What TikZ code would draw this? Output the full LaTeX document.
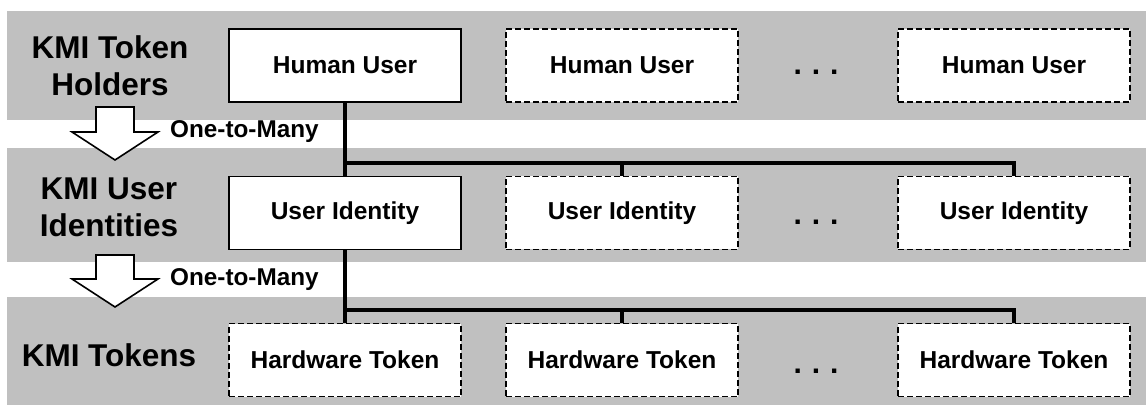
\documentclass[tikz,border=0pt]{standalone}
\usepackage{fontspec}
\setmainfont{Liberation Sans}
\definecolor{bandgray}{RGB}{192,192,192}
\tikzset{
  band/.style={fill=bandgray, draw=none},
  rowlabel/.style={font=\fontsize{31.5}{37}\selectfont\bfseries, align=center, inner sep=0pt},
  entity/.style={draw=black, line width=1.6pt, fill=white, minimum width=232pt,
    minimum height=73pt, inner sep=0pt, font=\fontsize{24.5}{28}\selectfont\bfseries},
  optional/.style={entity, dash pattern=on 6pt off 3pt},
  dots/.style={font=\fontsize{30}{36}\selectfont\bfseries, inner sep=0pt, anchor=base},
  relation/.style={font=\fontsize{24.3}{28}\selectfont\bfseries, inner sep=0pt, anchor=west},
  bus/.style={draw=black, line width=3.5pt},
  flow/.style={draw=black, fill=white, line width=1.6pt, line join=miter},
}
\begin{document}
\begin{tikzpicture}[x=1pt, y=-1pt]
  \useasboundingbox (0,0) rectangle (1146,406);

  % layer bands
  \fill[band] (7,11) rectangle (1146,120);
  \fill[band] (7,148) rectangle (1146,262);
  \fill[band] (7,297) rectangle (1146,405);

  % layer titles
  \node[rowlabel] (lab1) at (110,65.5) {KMI Token\\Holders};
  \node[rowlabel] (lab2) at (109,207) {KMI User\\Identities};
  \node[rowlabel] (lab3) at (109,355) {KMI Tokens};

  % layer transitions
  \draw[flow] (96,107) -- (134,107) -- (134,132) -- (158,132) -- (115,160)
    -- (72,132) -- (96,132) -- cycle;
  \draw[flow] (96,255) -- (134,255) -- (134,279) -- (158,279) -- (115,307)
    -- (72,279) -- (96,279) -- cycle;
  \node[relation] (rel1) at (170,132) {One-to-Many};
  \node[relation] (rel2) at (170,280) {One-to-Many};

  % token holders
  \node[entity]   (hu1) at (345,65.5) {Human User};
  \node[optional] (hu2) at (622,65.5) {Human User};
  \node[dots]     (hd)  at (816,75)   {.\,\,.\,\,.};
  \node[optional] (hu4) at (1014,65.5) {Human User};

  % user identities
  \node[entity]   (ui1) at (345,213) {User Identity};
  \node[optional] (ui2) at (622,213) {User Identity};
  \node[dots]     (ud)  at (816,225) {.\,\,.\,\,.};
  \node[optional] (ui4) at (1014,213) {User Identity};

  % hardware tokens
  \node[optional] (ht1) at (345,360) {Hardware Token};
  \node[optional] (ht2) at (622,360) {Hardware Token};
  \node[dots]     (td)  at (816,373) {.\,\,.\,\,.};
  \node[optional] (ht4) at (1014,360) {Hardware Token};

  % bus lines
  \coordinate (b1) at (345,163);
  \coordinate (b2) at (345,310);
  \draw[bus] (hu1.south) -- (ui1.north);
  \draw[bus] (b1) -| (ui4.north);
  \draw[bus] (ui2.north |- b1) -- (ui2.north);

  \draw[bus] (ui1.south) -- (ht1.north);
  \draw[bus] (b2) -| (ht4.north);
  \draw[bus] (ht2.north |- b2) -- (ht2.north);
\end{tikzpicture}
\end{document}
